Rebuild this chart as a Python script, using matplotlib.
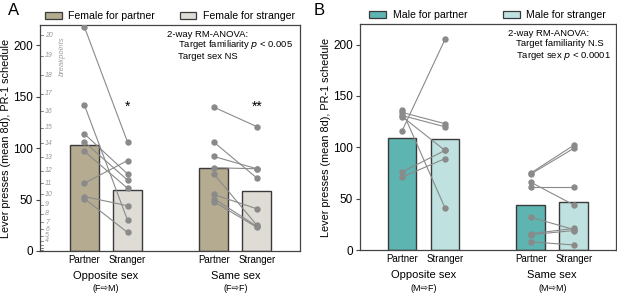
import matplotlib
matplotlib.use("Agg")
import matplotlib.pyplot as plt
from matplotlib.patches import Patch
import numpy as np

plt.rcParams['font.family'] = ['Liberation Sans', 'DejaVu Sans']

# ---------------- data ----------------
conditions = ["Partner", "Stranger"]
groups_A = ["Opposite sex", "Same sex"]
subs_A = ["(F\u21e8M)", "(F\u21e8F)"]
groups_B = ["Opposite sex", "Same sex"]
subs_B = ["(M\u21e8F)", "(M\u21e8M)"]

# Panel A bars (mean)
barsA_opp = [103, 59]
barsA_same = [81, 58]
# Panel A paired points (partner, stranger)
A_opp_partner = [218, 142, 114, 106, 97, 66, 53, 51]
A_opp_stranger = [106, 30, 75, 69, 61, 88, 44, 18]
A_same_partner = [140, 106, 92, 81, 75, 55, 51, 48]
A_same_stranger = [121, 71, 80, 80, 25, 41, 24, 23]

# Panel B bars
barsB_opp = [109, 108]
barsB_same = [44, 47]
B_opp_partner = [116, 136, 134, 131, 130, 76, 71]
B_opp_stranger = [205, 41, 123, 120, 97, 97, 89]
B_same_partner = [75, 74, 66, 61, 32, 16, 15, 8]
B_same_stranger = [102, 99, 44, 61, 20, 21, 19, 5]

breakpoints = list(range(1, 21))
breakpoint_labels = list(range(4, 21))

statsA = ["2-way RM-ANOVA:", "Target familiarity $p$ < 0.005", "Target sex NS"]
statsB = ["2-way RM-ANOVA:", "Target familiarity N.S", "Target sex $p$ < 0.0001"]
starsA = ["*", "**"]

colA = ["#b5ab91", "#dedcd5"]
colB = ["#5db4b1", "#bfe1df"]
legA = ["Female for partner", "Female for stranger"]
legB = ["Male for partner", "Male for stranger"]

# ---------------- figure ----------------
fig = plt.figure(figsize=(6.17, 2.97), dpi=100)
axA = fig.add_axes([0.0648, 0.155, 0.4215, 0.761])
axB = fig.add_axes([0.5835, 0.158, 0.4145, 0.761])

pos_opp = [0, 1]
pos_same = [3, 4]
width = 0.67
edge = "#3a3a3a"
ptcol = "#8a8a8a"


def draw(ax, bars_opp, bars_same, opp_p, opp_s, same_p, same_s, cols, groups, subs):
    for pos, bars in ((pos_opp, bars_opp), (pos_same, bars_same)):
        ax.bar(pos, bars, width=width, color=cols, edgecolor=edge, linewidth=1.0, zorder=1)
    for pos, p, s in ((pos_opp, opp_p, opp_s), (pos_same, same_p, same_s)):
        for a, b in zip(p, s):
            ax.plot(pos, [a, b], color=ptcol, lw=0.8, marker='o', ms=3.6,
                    mfc=ptcol, mec=ptcol, zorder=3)
    ax.set_ylim(0, 220)
    ax.set_yticks([0, 50, 100, 150, 200])
    ax.set_xticks(pos_opp + pos_same)
    ax.set_xticklabels(conditions * 2, fontsize=7)
    ax.tick_params(axis='x', length=0, pad=3)
    ax.tick_params(axis='y', labelsize=8.5, length=3, width=0.8, pad=2, color="#444444")
    for sp in ax.spines.values():
        sp.set_linewidth(0.9)
        sp.set_color("#444444")
    ax.set_ylabel("Lever presses (mean 8d), PR-1 schedule", fontsize=7.8, labelpad=1.5)
    tr = ax.get_xaxis_transform()
    for pos, g, s in ((pos_opp, groups[0], subs[0]), (pos_same, groups[1], subs[1])):
        xc = np.mean(pos)
        ax.text(xc, -0.112, g, transform=tr, ha='center', va='center', fontsize=8)
        ax.text(xc, -0.168, s, transform=tr, ha='center', va='center', fontsize=6.5)


draw(axA, barsA_opp, barsA_same, A_opp_partner, A_opp_stranger,
     A_same_partner, A_same_stranger, colA, groups_A, subs_A)
draw(axB, barsB_opp, barsB_same, B_opp_partner, B_opp_stranger,
     B_same_partner, B_same_stranger, colB, groups_B, subs_B)
axA.set_xlim(-1.03, 5.0)
axB.set_xlim(-0.98, 4.98)

# breakpoint scale on panel A
ytr = axA.get_yaxis_transform()
for n in breakpoints:
    yv = n * (n + 1) / 2
    axA.plot([0, 0.012], [yv, yv], transform=ytr, color="#777777", lw=0.6, zorder=2,
             clip_on=False)
    if n in breakpoint_labels:
        axA.text(0.02, yv, str(n), transform=ytr, ha='left', va='center', fontsize=5.0,
                 style='italic', color="#9a9a9a")
axA.text(0.085, 0.95, "breakpoints", transform=axA.transAxes, rotation=90, ha='center',
         va='top', fontsize=5.5, style='italic', color="#a0a0a0")

# stars
axA.text(pos_opp[1], 140, starsA[0], ha='center', va='center', fontsize=10)
axA.text(pos_same[1], 140, starsA[1], ha='center', va='center', fontsize=10)

# stats text
def stats(ax, lines, x0, x1):
    ax.text(x0, 0.958, lines[0], transform=ax.transAxes, fontsize=6.8, va='center')
    ax.text(x1, 0.912, lines[1], transform=ax.transAxes, fontsize=6.8, va='center')
    ax.text(x1, 0.86, lines[2], transform=ax.transAxes, fontsize=6.8, va='center')

stats(axA, statsA, 0.487, 0.53)
stats(axB, statsB, 0.578, 0.609)

# legends
for ax, cols, labs, cs in ((axA, colA, legA, 2.3), (axB, colB, legB, 3.4)):
    handles = [Patch(facecolor=c, edgecolor=edge, linewidth=0.9, label=l) for c, l in zip(cols, labs)]
    ax.legend(handles=handles, loc='lower center', bbox_to_anchor=(0.5, 1.0), ncol=2,
              frameon=False, fontsize=7.6, handlelength=1.6, handleheight=0.6,
              handletextpad=0.6, columnspacing=cs, borderaxespad=0.15, borderpad=0.2)

fig.text(0.013, 0.965, "A", fontsize=12, va='center')
fig.text(0.508, 0.965, "B", fontsize=12, va='center')

fig.savefig("out.png", dpi=100)
